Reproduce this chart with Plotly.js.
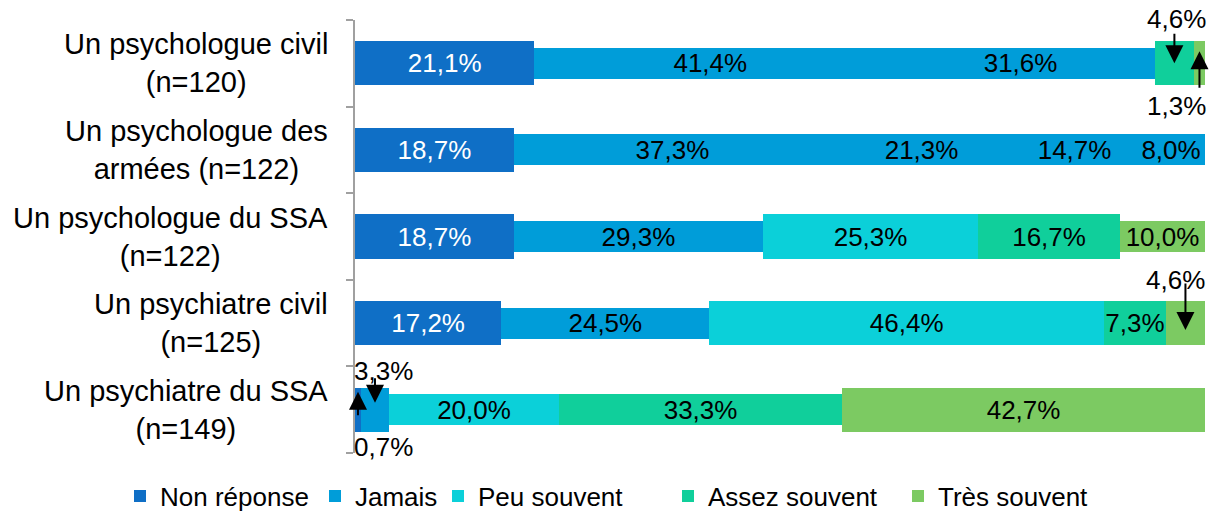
<!DOCTYPE html>
<html>
<head>
<meta charset="utf-8">
<script src="https://cdn.plot.ly/plotly-3.0.1.min.js"></script>
<style>html,body{margin:0;padding:0;background:#fff;}#chart{width:1213px;height:511px;}</style>
</head>
<body>
<div id="chart"></div>
<script>
// ---- DATA (top row first) ----
const categories = [
  "Un psychologue civil<br>(n=120)",
  "Un psychologue des<br>armées (n=122)",
  "Un psychologue du SSA<br>(n=122)",
  "Un psychiatre civil<br>(n=125)",
  "Un psychiatre du SSA<br>(n=149)"
];
const seriesNames = ["Non réponse", "Jamais", "Peu souvent", "Assez souvent", "Très souvent"];
const nonReponse   = [21.1, 18.7, 18.7, 17.2, 0.7];
const jamais       = [41.4, 37.3, 29.3, 24.5, 3.3];
const peuSouvent   = [31.6, 21.3, 25.3, 46.4, 20.0];
const assezSouvent = [4.6, 14.7, 16.7, 7.3, 33.3];
const tresSouvent  = [1.3, 8.0, 10.0, 4.6, 42.7];
const seriesValues = [nonReponse, jamais, peuSouvent, assezSouvent, tresSouvent];

// ---- STYLE ----
const FONT = "Liberation Sans, Arial, sans-serif";
const seriesColors = ["#0F6FC6", "#009DD9", "#0BD0D9", "#10CF9B", "#7CCA62"];
const textColors = ["#FFFFFF", "#000000", "#000000", "#000000", "#000000"];
const legendWidths = [150, 78, 185, 185, 152];
const THICK = 0.51, THIN = 0.36;
// per-point thickness, top row first
const thickness = [
  [THICK, THICK, THICK, THICK, THICK],
  [THIN, THIN, THIN, THIN, THICK],
  [THIN, THIN, THICK, THICK, THIN],
  [THICK, THIN, THICK, THICK, THIN],
  [THICK, THIN, THIN, THICK, THICK]
];
// per-point colour (index into seriesColors), top row first
const colourOf = [
  [0, 0, 0, 0, 0],
  [1, 1, 1, 1, 1],
  [1, 1, 2, 2, 2],
  [3, 1, 3, 3, 3],
  [4, 1, 4, 4, 4]
];
// small values shown as callouts: [series, row, headDy, tailAy, textDx, textDy]
const callouts = [
  [3, 0, 0, -31, 2, 44],
  [4, 0, 12, 38, -23, -43],
  [4, 3, -7, -48, -10, 43],
  [1, 4, 7, -26, 9, 39],
  [0, 4, 18, 25, 26, -37]
];

const fmt = v => v.toFixed(1).replace('.', ',') + '%';
const isCallout = (s, r) => callouts.some(c => c[0] === s && c[1] === r);
const rev = a => a.slice().reverse();

const traces = seriesValues.map((vals, s) => ({
  type: 'bar',
  orientation: 'h',
  name: seriesNames[s],
  x: rev(vals),
  y: rev(categories),
  width: rev(thickness[s]),
  marker: { color: rev(colourOf[s].map(k => seriesColors[k])) },
  text: rev(vals.map((v, r) => isCallout(s, r) ? '' : fmt(v))),
  textposition: 'inside',
  insidetextanchor: 'middle',
  textangle: 0,
  constraintext: 'none',
  insidetextfont: { family: FONT, size: 26, color: textColors[s] },
  legendwidth: legendWidths[s],
  hoverinfo: 'skip'
}));

const annotations = [];
categories.forEach(c => annotations.push({
  xref: 'paper', yref: 'y', x: -25 / 850, y: c, xanchor: 'right', yanchor: 'middle',
  align: 'center', text: c, showarrow: false,
  font: { family: FONT, size: 29, color: '#000' }
}));
callouts.forEach(([s, r, hdy, ay, tdx, tdy]) => {
  let cum = 0;
  for (let k = 0; k < s; k++) cum += seriesValues[k][r];
  const xc = cum + seriesValues[s][r] / 2;
  annotations.push({
    x: xc, y: categories[r], xref: 'x', yref: 'y', yshift: hdy,
    text: '', showarrow: true, ax: 0, ay: ay,
    arrowhead: 2, arrowsize: 1.8, arrowwidth: 2, arrowcolor: '#000'
  });
  annotations.push({
    x: xc, y: categories[r], xref: 'x', yref: 'y', xshift: tdx, yshift: tdy,
    text: fmt(seriesValues[s][r]), showarrow: false,
    font: { family: FONT, size: 26, color: '#000' }
  });
});

const layout = {
  width: 1213, height: 511,
  margin: { l: 355, r: 8, t: 20, b: 58, autoexpand: false },
  barmode: 'stack',
  paper_bgcolor: '#fff', plot_bgcolor: '#fff',
  font: { family: FONT, size: 26, color: '#000' },
  xaxis: { range: [0, 100], autorange: false, visible: false, fixedrange: true },
  yaxis: {
    type: 'category', range: [-0.5, categories.length - 0.5], autorange: false,
    showticklabels: false, showgrid: false, zeroline: false,
    showline: true, linecolor: '#A0A0A0', linewidth: 2,
    ticks: 'outside', ticklen: 7, tickwidth: 2, tickcolor: '#A0A0A0', tickson: 'boundaries'
  },
  showlegend: true,
  legend: {
    orientation: 'h', traceorder: 'normal', xref: 'paper', yref: 'paper',
    x: (120 - 355) / 850, xanchor: 'left', y: -0.045, yanchor: 'top',
    font: { family: FONT, size: 26, color: '#000' }, itemwidth: 30
  },
  annotations: annotations
};

Plotly.newPlot('chart', traces, layout, { displayModeBar: false, staticPlot: true });
</script>
</body>
</html>
